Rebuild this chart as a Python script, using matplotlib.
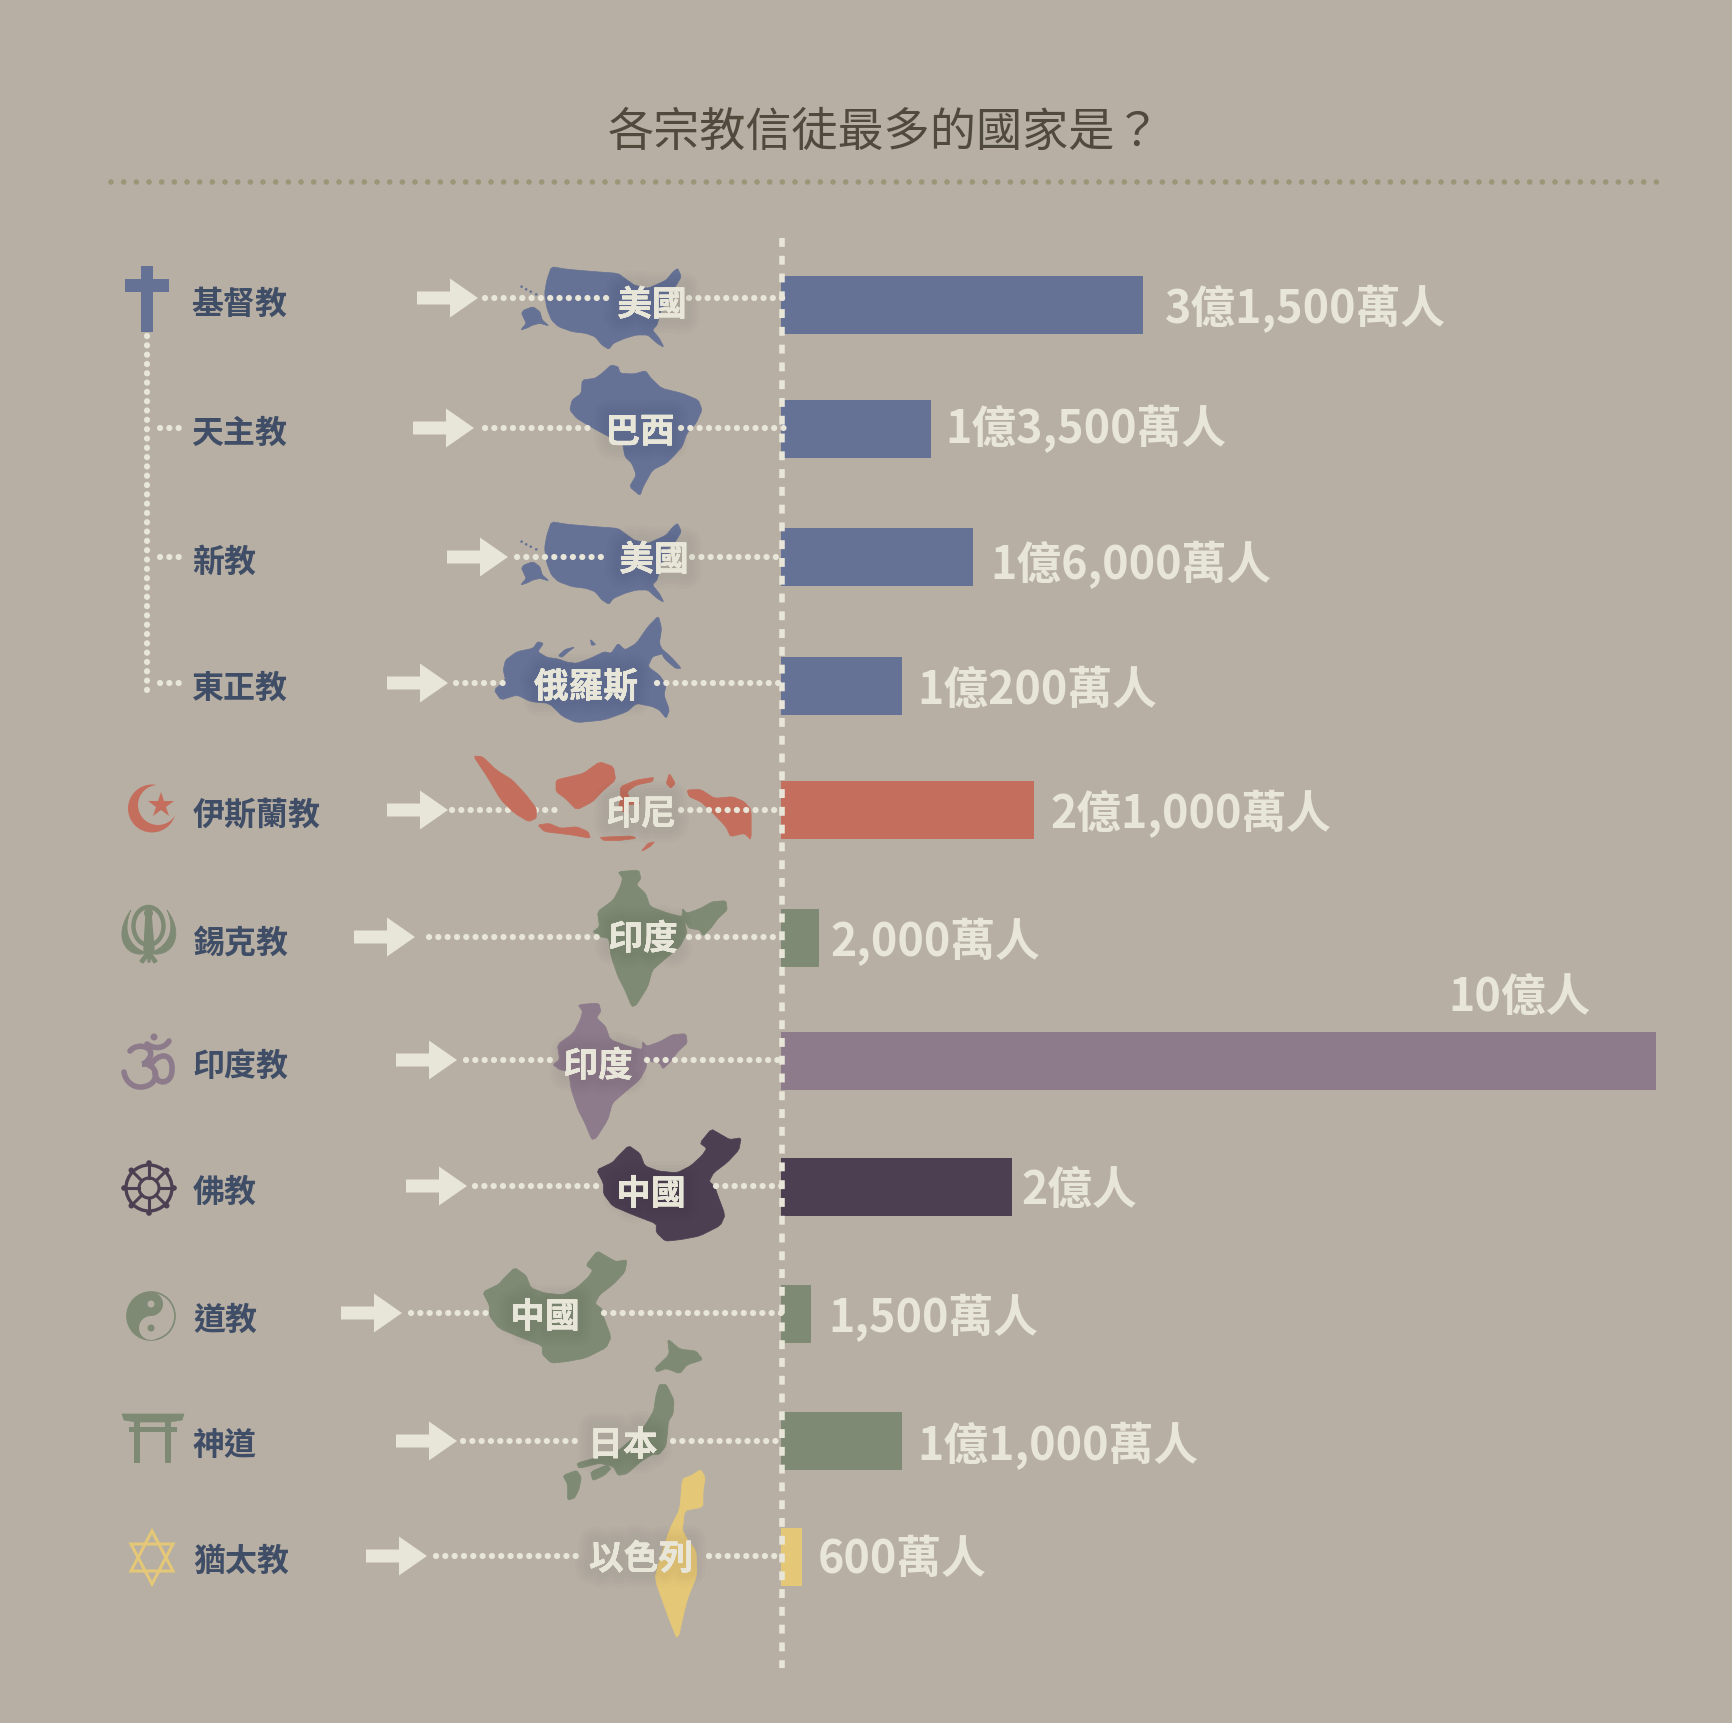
import matplotlib
matplotlib.use("Agg")
import matplotlib.pyplot as plt
from matplotlib.patches import Circle, Ellipse, Polygon, Rectangle, Wedge, PathPatch
from matplotlib.path import Path
import matplotlib.patheffects as pe

FONT = ["Noto Sans CJK TC", "DejaVu Sans"]
plt.rcParams["font.family"] = FONT

BG = "#b7afa3"
LIGHT = "#e8e6d8"
INK = "#3f4d66"
BLUE = "#667295"
RED = "#c46f5e"
GREEN = "#7e8a74"
PURPLE = "#8d7b8c"
DARK = "#4c3f52"
YELLOW = "#e5c877"

# data
religions = ["基督教", "天主教", "新教", "東正教", "伊斯蘭教", "錫克教", "印度教", "佛教", "道教", "神道", "猶太教"]
countries = ["美國", "巴西", "美國", "俄羅斯", "印尼", "印度", "印度", "中國", "中國", "日本", "以色列"]
bar_labels = ["3億1,500萬人", "1億3,500萬人", "1億6,000萬人", "1億200萬人", "2億1,000萬人", "2,000萬人",
              "10億人", "2億人", "1,500萬人", "1億1,000萬人", "600萬人"]
# bar length as drawn, percent of the longest bar (the picture is not to scale)
bar_lengths = [41.3, 17.1, 21.9, 13.8, 28.9, 4.3, 100.0, 26.4, 3.4, 13.8, 2.3]
bar_colors = [BLUE, BLUE, BLUE, BLUE, RED, GREEN, PURPLE, DARK, GREEN, GREEN, YELLOW]

# layout, in pixels of the picture
row_y = [298, 428, 557, 683, 810, 937, 1060, 1186, 1313, 1441, 1556]
bar_tops = [276, 400, 528, 657, 781, 909, 1032, 1158, 1285, 1412, 1528]
BAR_H = 58
BAR_X0 = 781.5
BAR_X1 = 1656.5
label_x = [1165, 945, 990, 917, 1050, 830, 1448, 1021, 828, 917, 818]
label_y = [309, 429, 565, 691, 814, 942, 998, 1191, 1318, 1446, 1560]
rel_x = [191, 191, 192, 191, 193, 193, 192, 193, 193, 192, 193]
rel_y = [305, 434, 563, 689, 816, 944, 1067, 1193, 1321, 1447, 1562]
arrow_x = [417, 413, 447, 387, 387, 354, 396, 406, 341, 396, 366]
dot_left = [(485, 609), (485, 596), (517, 608), (456, 505), (452, 558), (429, 597), (466, 558), (475, 604), (411, 491), (463, 583), (436, 576)]
dot_right = [(689, 790), (681, 790), (692, 782), (657, 782), (681, 782), (689, 782), (647, 782), (716, 782), (604, 782), (673, 782), (709, 783)]
name_x = [652, 640, 654, 586, 641, 643, 598, 651, 545, 623, 641]
name_y = [305, 432, 560, 687, 814, 939, 1066, 1194, 1317, 1445, 1559]

USA = [(1005,110),(1040,118),(1100,125),(1150,130),(1170,150),(1185,165),(1200,170),(1215,175),(1240,160),(1255,150),(1270,125),(1280,115),(1288,140),(1275,170),(1260,190),(1262,205),(1245,235),(1240,260),(1235,285),(1225,300),(1240,325),(1250,352),(1235,340),(1215,315),(1190,315),(1165,325),(1140,340),(1130,358),(1115,345),(1100,320),(1080,310),(1050,305),(1020,290),(1005,270),(995,235),(990,190),(995,150)]
ALASKA = [(945,240),(965,230),(980,245),(985,270),(1000,288),(980,280),(965,285),(950,295),(938,300),(950,280),(945,265),(940,250)]
HAWAII = [(940,170),(950,178),(960,185),(972,193)]
BRAZIL = [(1135,405),(1150,410),(1155,430),(1185,432),(1210,422),(1222,445),(1245,475),(1290,490),(1325,510),(1333,540),(1320,580),(1300,610),(1290,650),(1270,680),(1255,700),(1225,720),(1205,770),(1198,797),(1175,770),(1190,735),(1180,700),(1165,680),(1160,640),(1130,620),(1090,590),(1060,565),(1045,540),(1050,510),(1070,490),(1072,450),(1100,445),(1115,430)]
RUSSIA = [(905,1290),(930,1265),(965,1255),(975,1235),(988,1240),(975,1265),(995,1282),(1020,1287),(1040,1297),(1060,1300),(1090,1285),(1120,1265),(1135,1270),(1150,1240),(1165,1260),(1190,1240),(1215,1190),(1238,1158),(1245,1195),(1240,1240),(1250,1270),(1225,1280),(1215,1310),(1240,1335),(1255,1365),(1250,1395),(1262,1440),(1255,1465),(1240,1440),(1225,1430),(1190,1420),(1170,1445),(1120,1470),(1060,1478),(1030,1460),(1000,1420),(960,1415),(930,1395),(895,1410),(880,1380),(905,1350),(900,1320)]
NOVAYA = [(1020,1277),(1035,1258),(1056,1251),(1042,1265),(1028,1282)]
ISLET = [(1090,1228),(1102,1244),(1092,1246)]
KAMCHATKA = [(1240,1250),(1265,1280),(1288,1315),(1275,1315),(1250,1285)]
SUMATRA = [(835,78),(855,80),(885,120),(920,150),(950,195),(972,235),(972,265),(955,275),(925,250),(895,210),(865,140)]
JAVA = [(975,285),(1000,280),(1025,295),(1060,290),(1085,305),(1090,325),(1050,315),(1020,310),(990,305)]
BORNEO = [(1015,150),(1045,140),(1075,130),(1110,95),(1140,110),(1145,150),(1115,185),(1095,215),(1060,240),(1035,205),(1015,185)]
SULAWESI = [(1155,170),(1190,150),(1228,142),(1225,155),(1190,165),(1170,185),(1175,205),(1200,220),(1170,225),(1175,250),(1150,240),(1155,210)]
SUNDA = [(1110,322),(1140,320),(1180,318),(1190,325),(1150,332),(1120,332)]
TIMOR = [(1200,365),(1215,340),(1230,335),(1220,350)]
MALUKU = [(1262,130),(1275,160),(1265,175),(1255,160)]
PAPUA = [(1300,180),(1330,178),(1360,205),(1400,200),(1425,215),(1440,240),(1440,330),(1425,310),(1395,320),(1385,290),(1350,240),(1330,215),(1305,200)]
INDIA = [(1150,425),(1195,420),(1200,445),(1190,465),(1210,490),(1220,530),(1260,550),(1290,560),(1290,535),(1300,550),(1330,535),(1355,515),(1385,512),(1388,540),(1368,565),(1352,595),(1335,618),(1328,600),(1305,595),(1295,572),(1300,610),(1285,650),(1250,690),(1225,720),(1215,770),(1190,825),(1180,830),(1165,780),(1150,740),(1135,680),(1130,625),(1110,620),(1095,605),(1110,590),(1105,545),(1140,510),(1155,470),(1160,445)]
CHINA = [(855,462),(890,440),(900,425),(925,392),(950,415),(960,450),(990,465),(1030,470),(1060,450),(1085,420),(1095,400),(1080,385),(1105,345),(1125,360),(1145,375),(1170,370),(1165,405),(1140,440),(1110,470),(1100,495),(1115,510),(1115,520),(1135,590),(1125,620),(1080,650),(1040,660),(1005,665),(985,640),(985,615),(935,590),(890,565),(870,530),(870,500)]
HOKKAIDO = [(1258,595),(1285,625),(1320,630),(1335,655),(1300,670),(1285,695),(1255,680),(1235,690),(1230,680),(1262,640)]
HONSHU = [(1240,725),(1255,725),(1272,770),(1270,810),(1260,830),(1255,900),(1240,925),(1225,925),(1200,945),(1170,980),(1150,985),(1140,960),(1110,950),(1065,965),(1060,950),(1100,935),(1150,915),(1190,870),(1210,840),(1228,800),(1232,760)]
SHIKOKU = [(1090,975),(1125,955),(1135,965),(1120,985),(1095,1000)]
KYUSHU = [(1030,985),(1060,970),(1070,990),(1065,1025),(1055,1050),(1040,1055),(1040,1010)]
ISRAEL = [(1330,968),(1340,990),(1335,1030),(1335,1075),(1295,1085),(1290,1140),(1300,1165),(1320,1200),(1322,1270),(1300,1340),(1280,1455),(1260,1390),(1230,1280),(1240,1230),(1262,1140),(1285,1080),(1290,995),(1310,985)]

# crop scales: the crops came back squeezed, x and y differ
SX = 2.178
SY_TOP = 3.0
SY_LOW = 2.851


def soften(pts, cut=0.14):
    # corner cutting, keeps the outlines from looking faceted
    out = []
    n = len(pts)
    for i in range(n):
        (x0, y0), (x1, y1) = pts[i], pts[(i + 1) % n]
        out.append((x0 + cut * (x1 - x0), y0 + cut * (y1 - y0)))
        out.append((x1 - cut * (x1 - x0), y1 - cut * (y1 - y0)))
    return out


def draw_shape(ax, parts, color, ox, oy, sy=SY_TOP, zorder=2):
    for part in parts:
        pts = [(ox + x / SX, oy + y / sy) for x, y in soften(part)]
        ax.add_patch(Polygon(pts, closed=True, fc=color, ec=color, lw=0.5, joinstyle="round", zorder=zorder))


def draw_usa(ax, ox, oy):
    draw_shape(ax, [USA, ALASKA], BLUE, ox, oy)
    for x, y in HAWAII:
        ax.add_patch(Circle((ox + x / SX, oy + y / SY_TOP), 1.3, fc=BLUE, ec="none", zorder=2))


def dotted(ax, xs, ys, zorder=3):
    ax.plot(xs, ys, color=LIGHT, lw=4.5, linestyle=(0, (0.01, 1.48)), dash_capstyle="round", zorder=zorder)


def draw_arrow(ax, x, y):
    ax.add_patch(Polygon([(x, y - 6.5), (x + 33, y - 6.5), (x + 33, y - 19.5), (x + 61, y),
                          (x + 33, y + 19.5), (x + 33, y + 6.5), (x, y + 6.5)],
                         fc=LIGHT, ec="none", zorder=5))


def draw_icons(ax):
    # cross
    ax.add_patch(Rectangle((141, 266), 12, 66, fc=BLUE, zorder=2))
    ax.add_patch(Rectangle((125, 279), 44, 13, fc=BLUE, zorder=2))

    # crescent and star
    ax.add_patch(Circle((152, 808.5), 24, fc=RED, zorder=2))
    ax.add_patch(Circle((158, 805), 20, fc=BG, zorder=2))
    ax.plot([161.5], [805], marker="*", ms=19, color=RED, mew=0, zorder=3)

    # khanda
    ax.add_patch(Ellipse((148.5, 926), 30, 38, fc="none", ec=GREEN, lw=3.2, zorder=2))
    ax.add_patch(PathPatch(Path([(131, 910), (112, 935), (125, 960), (148, 953), (134, 950), (120, 935), (131, 910)],
                                [1, 4, 4, 4, 4, 4, 4]), fc=GREEN, ec=GREEN, lw=0.5, zorder=2))
    ax.add_patch(PathPatch(Path([(167, 910), (186, 935), (172, 960), (148, 953), (163, 950), (178, 935), (167, 910)],
                                [1, 4, 4, 4, 4, 4, 4]), fc=GREEN, ec=GREEN, lw=0.5, zorder=2))
    ax.add_patch(Polygon([(146, 914), (151, 914), (154, 950), (149, 958), (144, 950)], fc=GREEN, ec=GREEN, zorder=2))
    ax.add_patch(Circle((148.5, 913), 4.5, fc=GREEN, zorder=2))
    ax.add_patch(Polygon([(147, 952), (140, 961), (143, 963), (148, 956), (148, 962), (150, 962), (150, 956), (154, 963), (157, 961), (150, 952)],
                         fc=GREEN, ec=GREEN, zorder=2))

    # om
    om = dict(fc="none", ec=PURPLE, lw=4.0, zorder=2, capstyle="round")
    ax.add_patch(PathPatch(Path([(130, 1051), (138, 1041), (158, 1048), (148, 1060), (146, 1063), (143, 1064), (142, 1064),
                                 (158, 1062), (162, 1085), (142, 1087), (132, 1088), (125, 1080), (124, 1072)],
                                [1, 4, 4, 4, 4, 4, 4, 4, 4, 4, 4, 4, 4]), **om))
    ax.add_patch(PathPatch(Path([(150, 1066), (158, 1052), (173, 1052), (172, 1070), (172, 1085), (155, 1086), (155, 1072)],
                                [1, 4, 4, 4, 4, 4, 4]), **om))
    ax.add_patch(PathPatch(Path([(147, 1044), (155, 1050), (165, 1048), (169, 1041)], [1, 4, 4, 4]), **om))
    ax.add_patch(Circle((154, 1037), 3.5, fc=PURPLE, zorder=2))

    # dharma wheel
    c = (149, 1188)
    ax.add_patch(Circle(c, 23, fc="none", ec=DARK, lw=2.4, zorder=2))
    ax.add_patch(Circle(c, 10, fc="none", ec=DARK, lw=2.2, zorder=2))
    for dx, dy in [(1, 0), (-1, 0), (0, 1), (0, -1), (0.707, 0.707), (0.707, -0.707), (-0.707, 0.707), (-0.707, -0.707)]:
        ax.plot([c[0] + 10 * dx, c[0] + 25 * dx], [c[1] + 10 * dy, c[1] + 25 * dy], color=DARK, lw=2.2, zorder=2)
        ax.add_patch(Circle((c[0] + 25 * dx, c[1] + 25 * dy), 2.8, fc=DARK, zorder=2))

    # yin yang, y axis runs down so the top lobe sits at c[1] - 12
    c = (151, 1316)
    ax.add_patch(Circle(c, 24, fc=BG, ec=GREEN, lw=1.2, zorder=2))
    ax.add_patch(Wedge(c, 24, 90, 270, fc=GREEN, ec="none", zorder=2))
    ax.add_patch(Circle((c[0], c[1] - 12), 12, fc=GREEN, ec="none", zorder=3))
    ax.add_patch(Circle((c[0], c[1] + 12), 12, fc=BG, ec="none", zorder=3))
    ax.add_patch(Circle((c[0], c[1] - 12), 3.5, fc=BG, ec="none", zorder=4))
    ax.add_patch(Circle((c[0], c[1] + 12), 3.5, fc=GREEN, ec="none", zorder=4))

    # torii
    ax.add_patch(Polygon([(122, 1414), (184, 1414), (182, 1420), (170, 1422), (136, 1422), (124, 1420)], fc=GREEN, ec=GREEN, lw=0.5, zorder=2))
    ax.add_patch(Rectangle((129, 1427), 48, 4.5, fc=GREEN, zorder=2))
    ax.add_patch(Rectangle((134, 1420), 6, 43, fc=GREEN, zorder=2))
    ax.add_patch(Rectangle((165, 1420), 6, 43, fc=GREEN, zorder=2))

    # star of david
    ax.add_patch(Polygon([(152, 1531), (173, 1571), (131, 1571)], fc="none", ec=YELLOW, lw=2.2, zorder=2))
    ax.add_patch(Polygon([(152, 1584), (173, 1544), (131, 1544)], fc="none", ec=YELLOW, lw=2.2, zorder=2))


fig = plt.figure(figsize=(17.33, 17.23), dpi=100, facecolor=BG)
ax = fig.add_axes([0, 0, 1, 1])
ax.set_xlim(0, 1733)
ax.set_ylim(1723, 0)
ax.axis("off")

# bars get their own x scale, 0-100 over the width of the longest bar
bar_ax = fig.add_axes([BAR_X0 / 1733, 0, (BAR_X1 - BAR_X0) / 1733, 1], sharey=ax, zorder=1)
bar_ax.patch.set_alpha(0)
bar_ax.set_xlim(0, 100)
bar_ax.axis("off")
bar_ax.barh(bar_tops, bar_lengths, height=BAR_H, align="edge", color=bar_colors, linewidth=0, zorder=1)

ax.set_zorder(2)
ax.patch.set_alpha(0)

# title and rule
ax.text(884.5, 133, "各宗教信徒最多的國家是？", fontsize=33.2, color="#4f4a3c", ha="center", va="center", fontweight="light")
ax.plot([111, 1657], [182, 182], color="#9b9677", lw=4, linestyle=(0, (0.01, 2.27)), dash_capstyle="round")

# maps
draw_usa(ax, 90, 230)
draw_shape(ax, [BRAZIL], BLUE, 90, 230)
draw_usa(ax, 90, 485)
draw_shape(ax, [RUSSIA, NOVAYA, ISLET, KAMCHATKA], BLUE, 90, 230)
draw_shape(ax, [SUMATRA, JAVA, BORNEO, SULAWESI, SUNDA, TIMOR, MALUKU, PAPUA], RED, 90, 730)
draw_shape(ax, [INDIA], GREEN, 90, 730)
draw_shape(ax, [INDIA], PURPLE, 50, 863)
draw_shape(ax, [CHINA], DARK, 204, 1008, sy=SY_LOW)
draw_shape(ax, [CHINA], GREEN, 90, 1130, sy=SY_LOW)
draw_shape(ax, [HOKKAIDO, HONSHU, SHIKOKU, KYUSHU], GREEN, 90, 1130, sy=SY_LOW)
draw_shape(ax, [ISRAEL], YELLOW, 90, 1130, sy=SY_LOW)

# centre axis
ax.plot([782.5, 782.5], [238, 1668], color=LIGHT, lw=4, linestyle=(0, (1.6, 1.6)), zorder=3)

# tree joining the christian branches
dotted(ax, [147, 147], [336, 692])
for i in [1, 2, 3]:
    dotted(ax, [160, 184], [row_y[i], row_y[i]])

draw_icons(ax)

shadow = [pe.withStroke(linewidth=w, foreground="#000000", alpha=0.012) for w in (22, 17, 12, 8)] + [pe.Normal()]

for i, name in enumerate(religions):
    ax.text(rel_x[i], rel_y[i], name, fontsize=23, color=INK, ha="left", va="center", fontweight="bold", zorder=5)
    draw_arrow(ax, arrow_x[i], row_y[i])
    # the indonesia row runs behind sumatra
    dotted(ax, dot_left[i], [row_y[i], row_y[i]], zorder=1.9 if i == 4 else 4)
    dotted(ax, dot_right[i], [row_y[i], row_y[i]], zorder=4)
    ax.text(name_x[i], name_y[i], countries[i], fontsize=25, color=LIGHT, ha="center", va="center",
            fontweight="bold", path_effects=shadow, zorder=6)
    ax.text(label_x[i], label_y[i], bar_labels[i], fontsize=32.2, color=LIGHT, ha="left", va="center",
            fontweight="bold", zorder=5)

fig.savefig("out.png", dpi=100, facecolor=BG)
